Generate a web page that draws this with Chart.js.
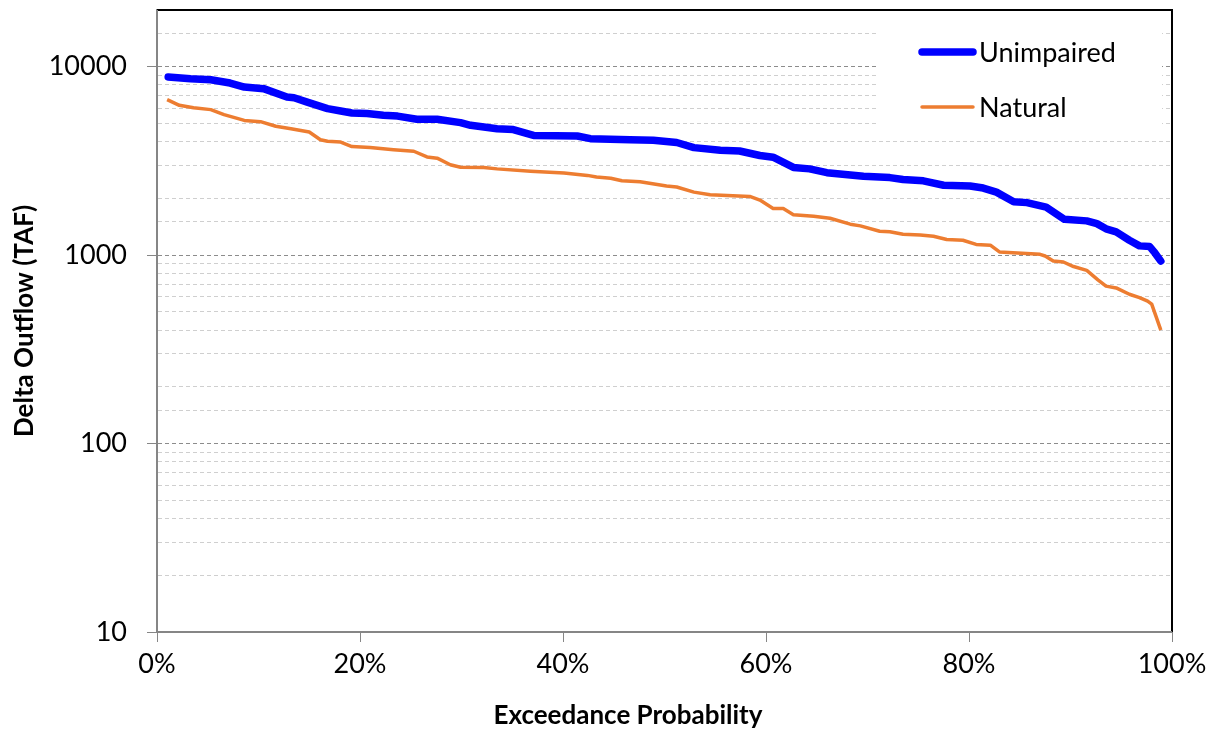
<!DOCTYPE html>
<html>
<head>
<meta charset="utf-8">
<script src="https://cdn.jsdelivr.net/npm/chart.js@4/dist/chart.umd.min.js"></script>
<style>
  html, body { margin: 0; padding: 0; background: #fff; }
  #wrap { width: 1219px; height: 731px; }
</style>
</head>
<body>
<div id="wrap"><canvas id="chart" width="1219" height="731"></canvas></div>
<script>
// Exceedance curves (probability in %, flow in TAF)
const unimpairedProb = [1.1, 3.3, 5.3, 7.2, 8.6, 10.5, 12.8, 13.5, 14.8, 16.8, 18.1, 19.2, 20.7, 22.3, 23.7,
  25.6, 27.6, 29.9, 30.9, 33.5, 35.1, 37.1, 41.4, 42.7, 46.6, 48.9, 51.2, 52.9, 55.5, 57.4, 59.4, 60.7,
  62.7, 64.3, 66.0, 69.6, 72.2, 73.5, 75.5, 77.5, 80.1, 81.4, 82.7, 84.4, 85.7, 87.6, 89.4, 91.6, 92.6,
  93.5, 94.5, 95.8, 96.8, 97.8, 98.3, 98.9];
const unimpairedFlow = [8830, 8640, 8530, 8190, 7800, 7650, 6900, 6850, 6490, 5990, 5820, 5680, 5640, 5520, 5470,
  5260, 5260, 5050, 4890, 4690, 4640, 4320, 4290, 4150, 4100, 4070, 3960, 3720, 3600, 3570, 3380, 3310,
  2920, 2870, 2740, 2620, 2580, 2520, 2480, 2350, 2330, 2270, 2160, 1920, 1900, 1800, 1550, 1520, 1470,
  1380, 1330, 1200, 1120, 1110, 1030, 930];

const naturalProb = [1.0, 2.2, 3.6, 5.3, 6.6, 8.6, 10.2, 11.7, 13.2, 15.0, 16.1, 16.8, 18.1, 19.2, 21.0, 23.3,
  25.3, 26.6, 27.6, 28.9, 29.9, 32.2, 33.5, 36.8, 40.1, 42.4, 43.3, 44.7, 45.8, 47.6, 50.2, 51.2, 52.9,
  54.5, 58.4, 59.4, 60.7, 61.7, 62.7, 64.7, 66.3, 68.3, 69.3, 71.2, 72.2, 73.5, 75.2, 76.5, 77.8, 79.4,
  80.7, 82.1, 83.0, 87.0, 87.5, 88.3, 89.3, 90.3, 91.6, 92.7, 93.5, 94.5, 95.8, 96.8, 97.6, 98.0, 98.9];
const naturalFlow = [6690, 6240, 6060, 5920, 5570, 5190, 5110, 4830, 4690, 4500, 4100, 4020, 3980, 3770, 3730, 3630,
  3560, 3320, 3270, 3020, 2930, 2920, 2870, 2790, 2730, 2650, 2600, 2560, 2480, 2450, 2330, 2300, 2160,
  2090, 2050, 1960, 1770, 1770, 1640, 1610, 1570, 1460, 1430, 1340, 1330, 1290, 1280, 1260, 1210, 1200,
  1140, 1130, 1040, 1010, 990, 930, 920, 870, 830, 740, 685, 670, 620, 595, 570, 550, 400];

const seriesLabels = ['Unimpaired', 'Natural'];
const xTicks = [0, 20, 40, 60, 80, 100];
const yTickLabels = [10, 100, 1000, 10000];
const xTitle = 'Exceedance Probability';

const FONT = 'Lato, "Noto Sans", sans-serif';
const AXIS_GRAY = '#868686';

function pairs(xs, ys) {
  return xs.map((x, i) => ({ x, y: ys[i] }));
}

// In-plot legend on a white box, the plot frame, and the x title (sits left of centre in the original)
const framePlugin = {
  id: 'frame',
  beforeDatasetsDraw(chart) {
    const ctx = chart.ctx;
    ctx.save();
    ctx.fillStyle = '#fff';
    ctx.fillRect(876, 16, 286, 114);
    chart.data.datasets.forEach((ds, i) => {
      const y = 52 + i * 55;
      ctx.strokeStyle = ds.borderColor;
      ctx.lineWidth = ds.borderWidth;
      ctx.lineCap = 'round';
      ctx.beginPath();
      ctx.moveTo(922, y);
      ctx.lineTo(973, y);
      ctx.stroke();
      ctx.fillStyle = '#000';
      ctx.font = '27px ' + FONT;
      ctx.textBaseline = 'middle';
      ctx.fillText(ds.label, 979, y + 1);
    });
    ctx.restore();
  },
  afterDraw(chart) {
    const { ctx, chartArea: a } = chart;
    ctx.save();
    ctx.lineWidth = 2;
    ctx.strokeStyle = '#000';
    ctx.beginPath();
    ctx.moveTo(a.left, a.top);
    ctx.lineTo(a.right, a.top);
    ctx.lineTo(a.right, a.bottom);
    ctx.stroke();
    ctx.strokeStyle = AXIS_GRAY;
    ctx.beginPath();
    ctx.moveTo(a.left, a.top);
    ctx.lineTo(a.left, a.bottom);
    ctx.lineTo(a.right, a.bottom);
    ctx.stroke();
    ctx.fillStyle = '#000';
    ctx.font = 'bold 26px ' + FONT;
    ctx.textAlign = 'center';
    ctx.textBaseline = 'middle';
    ctx.fillText(xTitle, 628, 716);
    ctx.restore();
  }
};

new Chart(document.getElementById('chart'), {
  type: 'line',
  data: {
    datasets: [
      {
        label: seriesLabels[0],
        data: pairs(unimpairedProb, unimpairedFlow),
        borderColor: '#0000ff',
        borderWidth: 7.5,
        borderCapStyle: 'round',
        borderJoinStyle: 'round',
        pointRadius: 0,
        tension: 0,
        fill: false
      },
      {
        label: seriesLabels[1],
        data: pairs(naturalProb, naturalFlow),
        borderColor: '#ed7d31',
        borderWidth: 3.5,
        borderJoinStyle: 'round',
        pointRadius: 0,
        tension: 0,
        fill: false
      }
    ]
  },
  options: {
    responsive: false,
    animation: false,
    devicePixelRatio: 1,
    layout: { padding: { left: 0, top: 10, right: 47, bottom: 0 } },
    plugins: { legend: { display: false }, tooltip: { enabled: false } },
    scales: {
      x: {
        type: 'linear',
        min: 0,
        max: 100,
        afterFit: s => { s.height = 99; s.paddingLeft = 0; s.paddingRight = 0; },
        afterBuildTicks: s => { s.ticks = xTicks.map(v => ({ value: v })); },
        ticks: {
          autoSkip: false,
          padding: 6,
          color: '#000',
          font: { family: FONT, size: 27 },
          callback: v => v + '%'
        },
        grid: { drawOnChartArea: false, drawTicks: true, tickLength: 10, tickColor: AXIS_GRAY },
        border: { color: AXIS_GRAY, width: 2 },
        title: { display: false }
      },
      y: {
        type: 'logarithmic',
        min: 10,
        max: 20000,
        afterFit: s => { s.width = 157; s.paddingTop = 0; s.paddingBottom = 0; },
        ticks: {
          autoSkip: false,
          padding: 20,
          color: '#000',
          font: { family: FONT, size: 27 },
          callback: v => yTickLabels.includes(v) ? String(v) : ''
        },
        grid: {
          tickLength: 10,
          lineWidth: 1,
          color: c => {
            const v = c.tick && c.tick.value;
            if (v === 20000 || v === 10) return 'rgba(0,0,0,0)';
            return yTickLabels.includes(v) ? '#8c8c8c' : '#cfcfcf';
          },
          tickColor: c => (c.tick && yTickLabels.includes(c.tick.value)) ? AXIS_GRAY : 'rgba(0,0,0,0)'
        },
        border: { color: AXIS_GRAY, width: 2, dash: [4, 3] },
        title: {
          display: true,
          text: 'Delta Outflow (TAF)',
          color: '#000',
          font: { family: FONT, size: 26, weight: 'bold' },
          padding: { top: 9, bottom: 0 }
        }
      }
    }
  },
  plugins: [framePlugin]
});
</script>
</body>
</html>
